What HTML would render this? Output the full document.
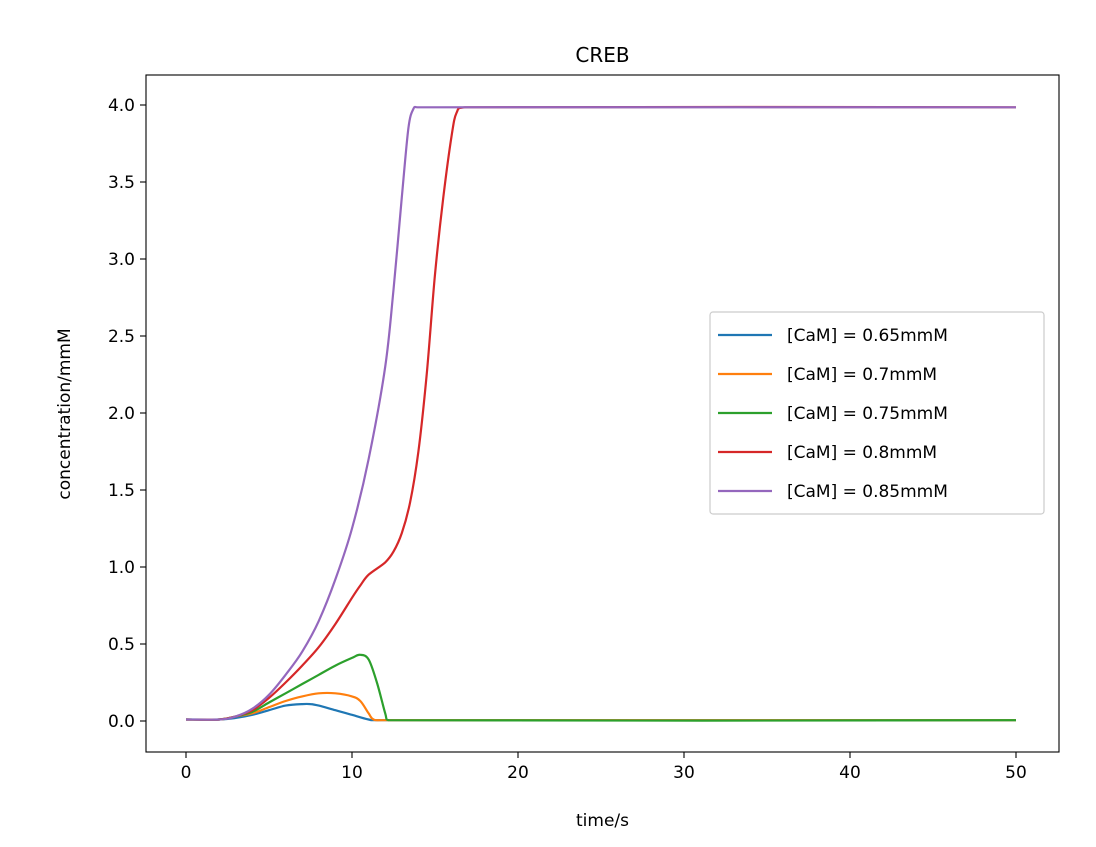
<!DOCTYPE html>
<html><head><meta charset="utf-8"><style>
body{margin:0;background:#fff;}
svg text{font-family:"DejaVu Sans","Liberation Sans",sans-serif;fill:#000;}
</style></head><body>
<svg id="chart" width="1096" height="842">
<rect x="0" y="0" width="1096" height="842" fill="#fff"/>
<g id="plot"></g>
</svg>
<script>
const seriesLabels=["[CaM] = 0.65mmM","[CaM] = 0.7mmM","[CaM] = 0.75mmM","[CaM] = 0.8mmM","[CaM] = 0.85mmM"];
const colors=["#1f77b4","#ff7f0e","#2ca02c","#d62728","#9467bd"];
const xTicks=[0,10,20,30,40,50];
const yTicks=[0,0.5,1,1.5,2,2.5,3,3.5,4];
const blueT=[0,2,3,4,5,6,7,7.5,8,9,10,11,11.5,50];
const blueV=[0.01,0.01,0.02,0.04,0.07,0.1,0.11,0.11,0.1,0.07,0.04,0.01,0.005,0.005];
const orangeT=[0,2,3,4,5,6,7,8,9,10,10.5,11,11.3,12,50];
const orangeV=[0.01,0.01,0.03,0.05,0.09,0.13,0.16,0.18,0.18,0.16,0.13,0.05,0.01,0.005,0.005];
const greenT=[0,2,3,4,5,6,7,8,9,10,10.5,11,11.5,12,12.2,50];
const greenV=[0.01,0.01,0.03,0.06,0.12,0.18,0.24,0.3,0.36,0.41,0.43,0.4,0.25,0.05,0.005,0.005];
const redT=[0,2,3,4,5,6,7,8,9,10,10.5,11,12,12.5,13,13.5,14,14.5,15,15.5,16,16.3,16.8,50];
const redV=[0.01,0.01,0.03,0.07,0.15,0.25,0.36,0.48,0.63,0.8,0.88,0.95,1.03,1.1,1.22,1.42,1.75,2.25,2.9,3.4,3.8,3.95,3.985,3.985];
const purpleT=[0,2,3,4,5,6,7,8,9,10,11,12,12.5,13,13.4,13.7,14,50];
const purpleV=[0.01,0.01,0.03,0.08,0.17,0.3,0.45,0.65,0.92,1.25,1.7,2.3,2.8,3.4,3.85,3.975,3.985,3.985];
const allT=[blueT,orangeT,greenT,redT,purpleT], allV=[blueV,orangeV,greenV,redV,purpleV];

const L=146,R=1059,T=75,B=752;
const xs=t=>186+(1016-186)*t/50;
const ys=v=>721-(721-105)*v/4;
const NS="http://www.w3.org/2000/svg";
const g=document.getElementById('plot');
function mk(tag,attrs,parent){const e=document.createElementNS(NS,tag);for(const k in attrs)e.setAttribute(k,attrs[k]);(parent||g).appendChild(e);return e;}
function smooth(pts){
  let d='M'+pts[0][0].toFixed(1)+','+pts[0][1].toFixed(1);
  for(let i=0;i<pts.length-1;i++){
    const p0=pts[Math.max(0,i-1)],p1=pts[i],p2=pts[i+1],p3=pts[Math.min(pts.length-1,i+2)];
    const k=1/6;
    let c1=[p1[0]+(p2[0]-p0[0])*k,p1[1]+(p2[1]-p0[1])*k];
    let c2=[p2[0]-(p3[0]-p1[0])*k,p2[1]-(p3[1]-p1[1])*k];
    c1[0]=Math.min(Math.max(c1[0],p1[0]),p2[0]);c2[0]=Math.min(Math.max(c2[0],p1[0]),p2[0]);
    d+=' C'+c1[0].toFixed(1)+','+c1[1].toFixed(1)+' '+c2[0].toFixed(1)+','+c2[1].toFixed(1)+' '+p2[0].toFixed(1)+','+p2[1].toFixed(1);
  }
  return d;
}
allT.forEach((ts,i)=>{
  const pts=ts.map((t,j)=>[xs(t),ys(allV[i][j])]);
  const p=mk('path',{d:smooth(pts),fill:'none',stroke:colors[i],'stroke-width':2.2,'stroke-linejoin':'round'});
  
  
});
const frame=mk('rect',{x:L,y:T,width:R-L,height:B-T,fill:'none',stroke:'#000','stroke-width':1.1});


xTicks.forEach(t=>{
  mk('line',{x1:xs(t),x2:xs(t),y1:B,y2:B+6,stroke:'#000','stroke-width':1.1});
  const tx=mk('text',{x:xs(t),y:B+26,'text-anchor':'middle','font-size':17});
  tx.textContent=t;
  
  
});
yTicks.forEach(v=>{
  mk('line',{x1:L-6,x2:L,y1:ys(v),y2:ys(v),stroke:'#000','stroke-width':1.1});
  const tx=mk('text',{x:L-11,y:ys(v)+6,'text-anchor':'end','font-size':17});
  tx.textContent=v.toFixed(1);
  
  
});
let t1=mk('text',{x:(L+R)/2,y:62,'text-anchor':'middle','font-size':20});t1.textContent='CREB';


let t2=mk('text',{x:(L+R)/2,y:826,'text-anchor':'middle','font-size':17});t2.textContent='time/s';


let t3=mk('text',{x:0,y:0,'text-anchor':'middle','font-size':17,transform:'translate(70,414) rotate(-90)'});t3.textContent='concentration/mmM';


const lg=mk('rect',{x:710,y:312,width:334,height:202,rx:3,fill:'#fff',stroke:'#ccc','stroke-width':1.2});


seriesLabels.forEach((s,i)=>{
  const y=335+i*39;
  mk('line',{x1:718,x2:772,y1:y,y2:y,stroke:colors[i],'stroke-width':2.2});
  const tx=mk('text',{x:787,y:y+6,'font-size':17});tx.textContent=s;
  
  
});
</script>
</body></html>
